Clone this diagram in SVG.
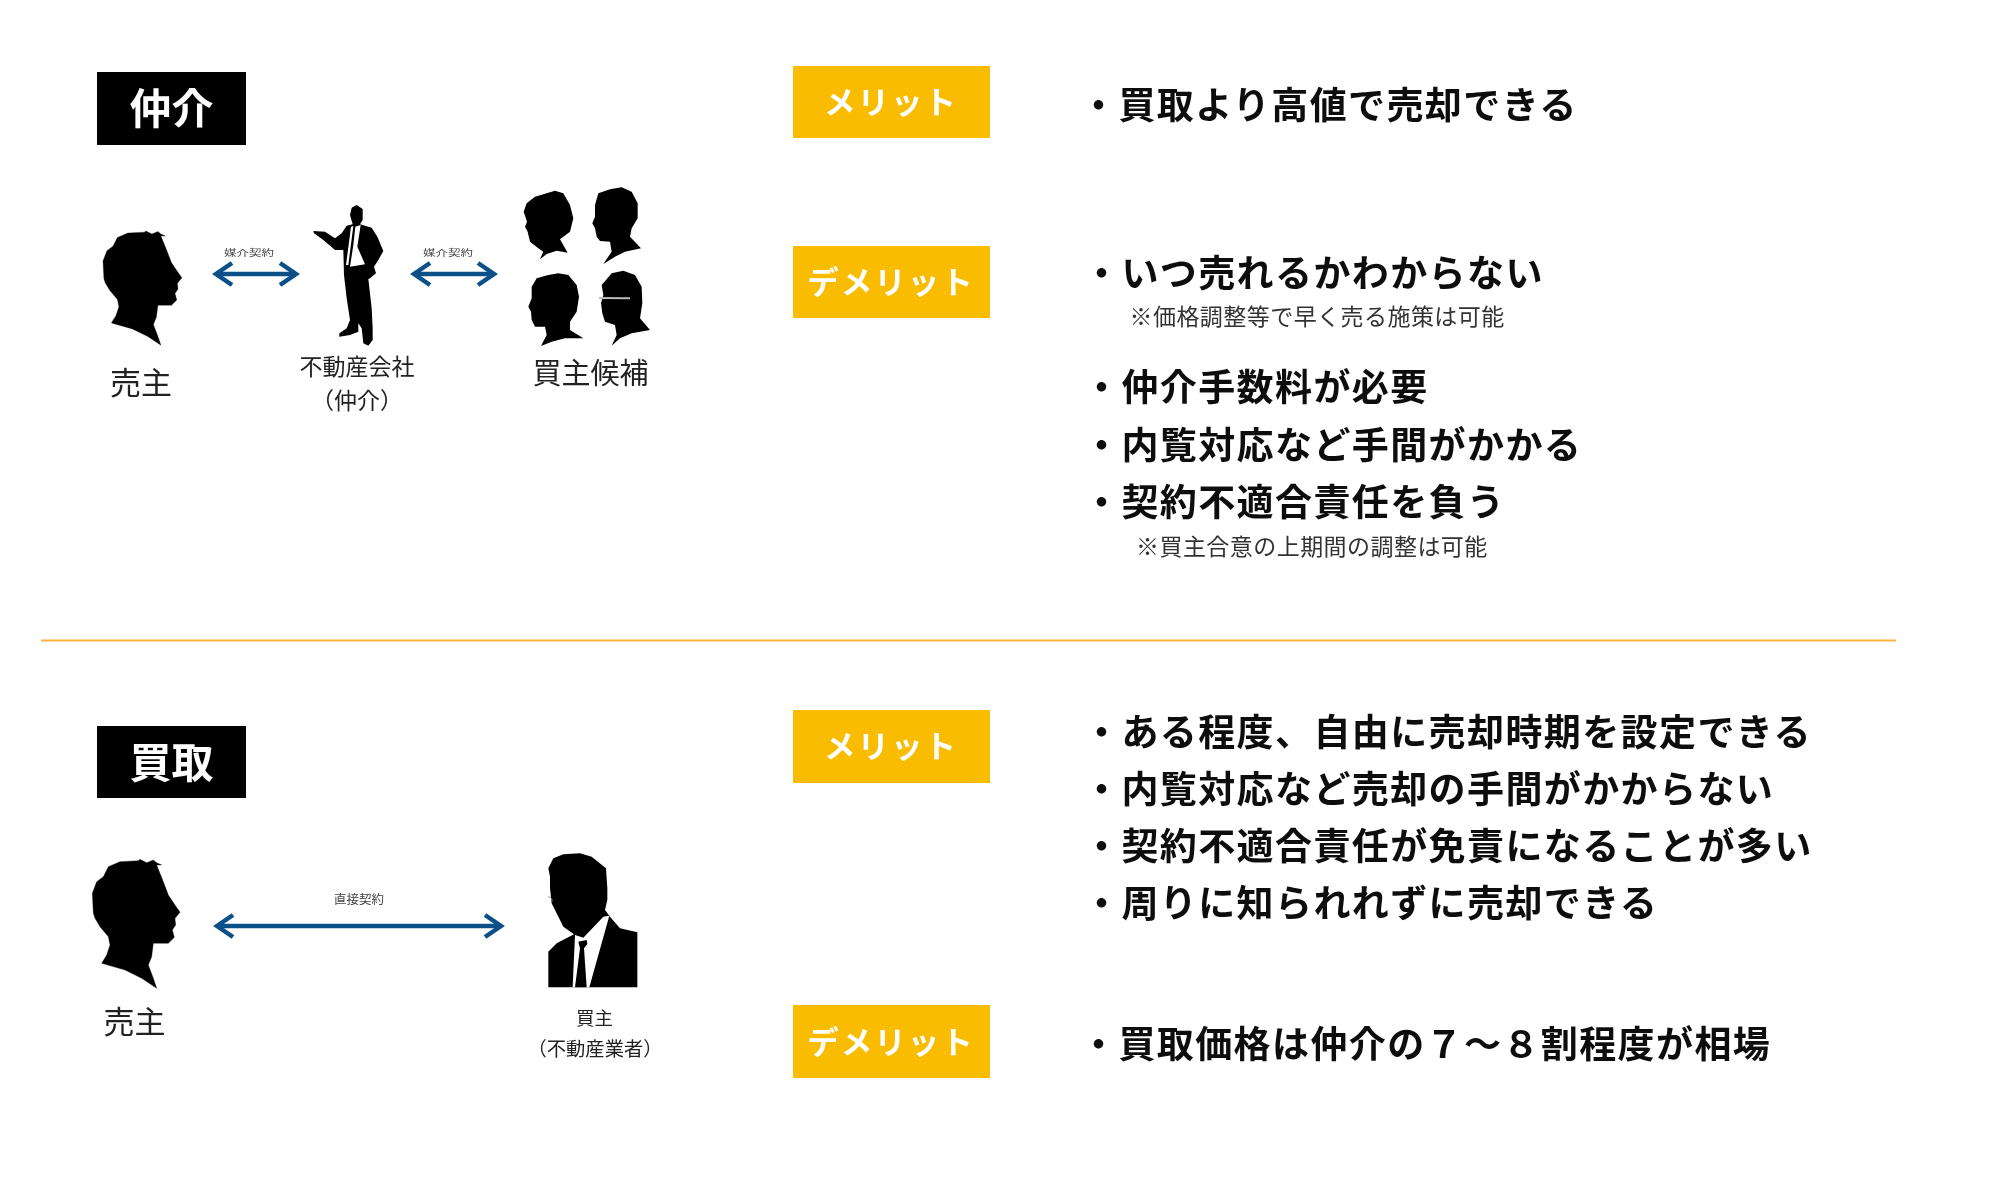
<svg xmlns="http://www.w3.org/2000/svg" width="1999" height="1181" viewBox="0 0 1999 1181">
<style>
text{font-family:"Noto Sans CJK JP","Noto Sans",sans-serif;filter:url(#soft)}
.tag{fill:#000}
.tagt{fill:#fff;font-size:42px;font-weight:700;text-anchor:middle}
.mer{fill:#F9BC00}
.mert{fill:#fff;font-size:31.500px;font-weight:700;text-anchor:middle;letter-spacing:2px}
.b{fill:#111;font-size:37px;font-weight:700;letter-spacing:1.4px}
.s{fill:#333;font-size:23px;font-weight:400;letter-spacing:.45px}
.l{fill:#222;text-anchor:middle;font-weight:400}
.c{fill:#444;font-size:12.5px;text-anchor:middle}
.sil{fill:#000;stroke:#000;stroke-width:1;stroke-linejoin:round;filter:url(#soft)}
.conn{fill:none;stroke:#0B5088;stroke-width:4.5;marker-start:url(#ah);marker-end:url(#ah)}
</style>
<defs>
<filter id="soft" x="-5%" y="-15%" width="110%" height="130%"><feGaussianBlur stdDeviation=".45"/></filter>
<marker id="ah" markerUnits="userSpaceOnUse" viewBox="-20 -14 24 28" refX="0" refY="0" markerWidth="24" markerHeight="28" orient="auto-start-reverse"><path d="M-16,-11 L0,0 L-16,11" fill="none" stroke="#0B5088" stroke-width="4.5"/></marker>
<path id="seller" d="M215,415 L170,385 L120,360 L50,340 L65,315 L75,285 L70,260 L45,230 L30,205 L25,190 L22,130 L35,95 L55,80 L70,50 L105,35 L160,32 L165,28 L185,38 L205,30 L215,38 L230,45 L215,45 L235,95 L250,135 L270,165 L285,187 L270,205 L272,225 L262,240 L268,262 L250,280 L205,280 L200,320 L190,345 L205,385 Z"/>
</defs>

<g id="divider"><line x1="41" y1="640.5" x2="1896" y2="640.5" stroke="#FFB13C" stroke-width="1.8"/></g>

<g id="tag-chukai"><rect class="tag" x="97" y="72" width="149" height="73"/><text class="tagt" x="171.500" y="124">仲介</text></g>
<g id="tag-kaitori"><rect class="tag" x="97" y="726" width="149" height="72"/><text class="tagt" x="171.500" y="778">買取</text></g>

<g id="seller-1">
<use href="#seller" class="sil" transform="matrix(.3,0,0,.295,96.4,222.7)"/>
<text class="l" x="141" y="394" font-size="31">売主</text>
</g>

<g id="agent">
<g transform="translate(300,195) scale(.33333)" filter="url(#soft)">
<path fill="#000" d="M170,30 L188,42 L188,75 L180,88 L215,98 L232,125 L250,168 L235,195 L222,215 L228,235 L210,250 L205,252 L215,340 L218,400 L218,435 L205,452 L190,445 L185,400 L175,385 L175,410 L150,420 L118,425 L118,415 L140,400 L150,375 L140,310 L132,240 L130,165 L105,165 L70,135 L42,115 L40,108 L75,110 L105,130 L125,115 L140,92 L158,88 L150,60 L155,38 Z"/>
<path fill="#fff" d="M153,95 L160,93 L145,210 L138,210 Z M182,90 L166,95 L160,150 L150,215 L195,208 L172,155 Z"/>
</g>
<text class="l" x="357" y="375" font-size="23">不動産会社</text>
<text class="l" x="357" y="409" font-size="23">（仲介）</text>
</g>

<g id="buyers">
<g transform="translate(515,180) scale(.33333)" filter="url(#soft)">
<path fill="#000" d="M75,238 L85,215 L70,205 L45,185 L38,155 L30,140 L36,125 L26,95 L35,70 L60,50 L95,40 L120,32 L145,40 L165,75 L175,115 L165,155 L135,178 L158,218 L125,212 L95,222 Z"/>
<path fill="#000" d="M265,252 L290,215 L285,185 L255,183 L245,170 L240,145 L232,130 L240,110 L240,75 L250,40 L285,28 L320,22 L350,35 L368,70 L368,115 L350,145 L345,170 L378,205 L330,215 L300,230 Z"/>
<path fill="#000" d="M78,498 L95,465 L90,440 L60,440 L50,420 L48,395 L40,380 L50,355 L50,320 L65,295 L100,285 L130,280 L160,285 L185,315 L192,350 L185,395 L165,425 L165,450 L205,475 L150,475 L110,485 Z"/>
<path fill="#000" d="M290,497 L305,465 L300,435 L270,425 L262,400 L258,370 L265,345 L260,315 L290,280 L325,272 L360,285 L380,320 L382,370 L375,415 L405,450 L350,460 L315,475 Z"/>
<path d="M252,354 L345,355" stroke="#bbb" stroke-width="6" fill="none"/>
</g>
<text class="l" x="590.500" y="384" font-size="29">買主候補</text>
</g>

<g id="seller-2">
<use href="#seller" class="sil" transform="translate(85,850) scale(.33333)"/>
<text class="l" x="134.500" y="1033" font-size="31">売主</text>
</g>

<g id="buyer-2">
<g transform="translate(530,845) scale(.33333)" filter="url(#soft)">
<path fill="#000" d="M55,70 L70,40 L100,28 L150,25 L185,35 L228,70 L232,130 L232,165 L225,195 L240,215 L270,250 L322,262 L322,427 L55,427 L55,320 L80,295 L132,268 L100,245 L90,225 L75,195 L65,175 L60,130 L60,95 Z"/>
<path fill="#fff" d="M135,270 L160,278 L220,215 L238,212 L178,427 L128,427 Z"/>
<path fill="#000" d="M145,290 L170,285 L172,297 L162,310 L170,427 L135,427 L150,310 Z"/>
<path d="M55,155 Q68,158 66,170" stroke="#888" stroke-width="3" fill="none"/>
</g>
<text class="l" x="594.500" y="1025" font-size="18.500">買主</text>
<text class="l" x="595" y="1056" font-size="19.300">（不動産業者）</text>
</g>

<g id="connectors">
<line class="conn" x1="216" y1="274" x2="296" y2="274"/>
<line class="conn" x1="414" y1="274" x2="494" y2="274"/>
<line class="conn" x1="217" y1="926" x2="501" y2="926"/>
</g>
<g id="connector-labels">
<text class="c" transform="translate(249,255.500) scale(1,.7)">媒介契約</text>
<text class="c" transform="translate(448,255.500) scale(1,.7)">媒介契約</text>
<text class="c" x="359" y="904">直接契約</text>
</g>

<g id="merit-1"><rect class="mer" x="793" y="66" width="197" height="72"/><text class="mert" x="891" y="114">メリット</text></g>
<g id="demerit-1"><rect class="mer" x="793" y="246" width="197" height="72"/><text class="mert" x="891" y="294">デメリット</text></g>
<g id="merit-2"><rect class="mer" x="793" y="710" width="197" height="73"/><text class="mert" x="891" y="758">メリット</text></g>
<g id="demerit-2"><rect class="mer" x="793" y="1005" width="197" height="73"/><text class="mert" x="891" y="1054">デメリット</text></g>

<g id="text-1">
<text class="b" x="1080" y="118.500">・買取より高値で売却できる</text>
<text class="b" x="1083" y="286.500">・いつ売れるかわからない</text>
<text class="s" x="1129.500" y="325">※価格調整等で早く売る施策は可能</text>
<text class="b" x="1083" y="401">・仲介手数料が必要</text>
<text class="b" x="1083" y="459">・内覧対応など手間がかかる</text>
<text class="b" x="1083" y="516">・契約不適合責任を負う</text>
<text class="s" x="1136" y="555">※買主合意の上期間の調整は可能</text>
</g>
<g id="text-2">
<text class="b" x="1083" y="745.500">・ある程度、自由に売却時期を設定できる</text>
<text class="b" x="1083" y="802.500">・内覧対応など売却の手間がかからない</text>
<text class="b" x="1083" y="859.500">・契約不適合責任が免責になることが多い</text>
<text class="b" x="1083" y="917">・周りに知られれずに売却できる</text>
<text class="b" x="1080" y="1057.500">・買取価格は仲介の７～８割程度が相場</text>
</g>
</svg>
